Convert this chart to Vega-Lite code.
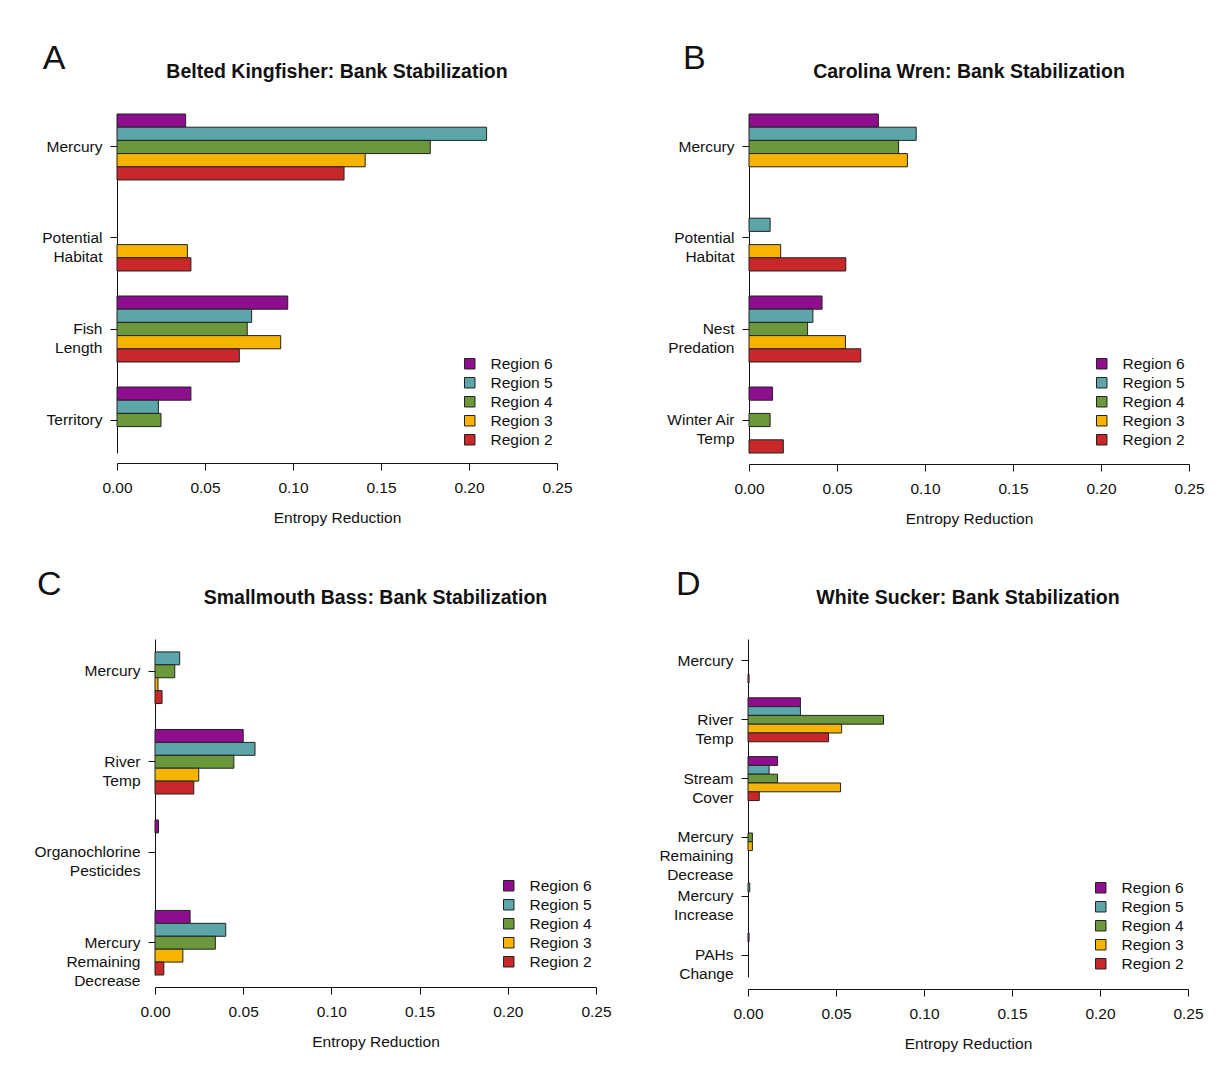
{
  "$schema": "https://vega.github.io/schema/vega-lite/v6.json",
  "background": "white",
  "padding": {"left": 0, "top": 42, "right": 2, "bottom": 10},
  "config": {
    "font": "Liberation Sans",
    "view": {"stroke": null},
    "title": {"fontSize": 19.5, "fontWeight": "bold", "anchor": "middle", "offset": 31, "color": "#111"},
    "axis": {"domainColor": "#111", "tickColor": "#111", "labelColor": "#111", "titleColor": "#111", "grid": false, "labelFontSize": 15.5, "titleFontSize": 15.5, "titleFontWeight": "normal", "tickSize": 7},
    "axisY": {"title": null, "labelPadding": 8, "labelExpr": "split(datum.label, '|')", "labelLineHeight": 19, "labelAlign": "right", "labelBaseline": "middle"},
    "axisX": {"labelFlush": false, "labelPadding": 10, "titlePadding": 15},
    "legend": {"orient": "bottom-right", "offset": 4, "title": null, "symbolType": "square", "symbolSize": 110, "symbolStrokeColor": "#222", "symbolStrokeWidth": 1, "labelFontSize": 15.5, "labelColor": "#111", "labelOffset": 13, "rowPadding": 2}
  },
  "datasets": {
    "empty": [],
    "kingfisher": [
      {"var": "Mercury", "region": "Region 6", "value": 0.039},
      {"var": "Mercury", "region": "Region 5", "value": 0.21},
      {"var": "Mercury", "region": "Region 4", "value": 0.178},
      {"var": "Mercury", "region": "Region 3", "value": 0.141},
      {"var": "Mercury", "region": "Region 2", "value": 0.129},
      {"var": "Potential|Habitat", "region": "Region 3", "value": 0.04},
      {"var": "Potential|Habitat", "region": "Region 2", "value": 0.042},
      {"var": "Fish|Length", "region": "Region 6", "value": 0.097},
      {"var": "Fish|Length", "region": "Region 5", "value": 0.0765},
      {"var": "Fish|Length", "region": "Region 4", "value": 0.074},
      {"var": "Fish|Length", "region": "Region 3", "value": 0.093},
      {"var": "Fish|Length", "region": "Region 2", "value": 0.0695},
      {"var": "Territory", "region": "Region 6", "value": 0.042},
      {"var": "Territory", "region": "Region 5", "value": 0.0235},
      {"var": "Territory", "region": "Region 4", "value": 0.025}
    ],
    "wren": [
      {"var": "Mercury", "region": "Region 6", "value": 0.0735},
      {"var": "Mercury", "region": "Region 5", "value": 0.095},
      {"var": "Mercury", "region": "Region 4", "value": 0.085},
      {"var": "Mercury", "region": "Region 3", "value": 0.09},
      {"var": "Potential|Habitat", "region": "Region 5", "value": 0.012},
      {"var": "Potential|Habitat", "region": "Region 3", "value": 0.018},
      {"var": "Potential|Habitat", "region": "Region 2", "value": 0.055},
      {"var": "Nest|Predation", "region": "Region 6", "value": 0.0415},
      {"var": "Nest|Predation", "region": "Region 5", "value": 0.0363},
      {"var": "Nest|Predation", "region": "Region 4", "value": 0.0333},
      {"var": "Nest|Predation", "region": "Region 3", "value": 0.0548},
      {"var": "Nest|Predation", "region": "Region 2", "value": 0.0635},
      {"var": "Winter Air|Temp", "region": "Region 6", "value": 0.0134},
      {"var": "Winter Air|Temp", "region": "Region 4", "value": 0.012},
      {"var": "Winter Air|Temp", "region": "Region 2", "value": 0.0195}
    ],
    "bass": [
      {"var": "Mercury", "region": "Region 5", "value": 0.014},
      {"var": "Mercury", "region": "Region 4", "value": 0.0112},
      {"var": "Mercury", "region": "Region 3", "value": 0.0017},
      {"var": "Mercury", "region": "Region 2", "value": 0.004},
      {"var": "River|Temp", "region": "Region 6", "value": 0.05},
      {"var": "River|Temp", "region": "Region 5", "value": 0.0567},
      {"var": "River|Temp", "region": "Region 4", "value": 0.0447},
      {"var": "River|Temp", "region": "Region 3", "value": 0.0248},
      {"var": "River|Temp", "region": "Region 2", "value": 0.022},
      {"var": "Organochlorine|Pesticides", "region": "Region 6", "value": 0.002},
      {"var": "Mercury|Remaining|Decrease", "region": "Region 6", "value": 0.0199},
      {"var": "Mercury|Remaining|Decrease", "region": "Region 5", "value": 0.0401},
      {"var": "Mercury|Remaining|Decrease", "region": "Region 4", "value": 0.0342},
      {"var": "Mercury|Remaining|Decrease", "region": "Region 3", "value": 0.0158},
      {"var": "Mercury|Remaining|Decrease", "region": "Region 2", "value": 0.005}
    ],
    "sucker": [
      {"var": "Mercury", "region": "Region 2", "value": 0.0006},
      {"var": "River|Temp", "region": "Region 6", "value": 0.0298},
      {"var": "River|Temp", "region": "Region 5", "value": 0.0298},
      {"var": "River|Temp", "region": "Region 4", "value": 0.077},
      {"var": "River|Temp", "region": "Region 3", "value": 0.0532},
      {"var": "River|Temp", "region": "Region 2", "value": 0.0458},
      {"var": "Stream|Cover", "region": "Region 6", "value": 0.0168},
      {"var": "Stream|Cover", "region": "Region 5", "value": 0.012},
      {"var": "Stream|Cover", "region": "Region 4", "value": 0.0168},
      {"var": "Stream|Cover", "region": "Region 3", "value": 0.0526},
      {"var": "Stream|Cover", "region": "Region 2", "value": 0.0064},
      {"var": "Mercury|Remaining|Decrease", "region": "Region 4", "value": 0.0025},
      {"var": "Mercury|Remaining|Decrease", "region": "Region 3", "value": 0.0025},
      {"var": "Mercury|Increase", "region": "Region 5", "value": 0.001},
      {"var": "PAHs|Change", "region": "Region 6", "value": 0.0006}
    ]
  },
  "resolve": {"scale": {"x": "independent", "y": "independent", "color": "independent", "yOffset": "independent"}, "legend": {"color": "independent"}},
  "spacing": 40,
  "vconcat": [
    {
      "spacing": 0,
      "resolve": {"scale": {"x": "independent", "y": "independent", "color": "independent", "yOffset": "independent"}, "legend": {"color": "independent"}},
      "hconcat": [
        {"width": 41, "height": 1, "data": {"name": "empty"}, "mark": "point"},
        {
          "title": {"text": "A", "fontSize": 34, "fontWeight": "normal", "anchor": "start", "offset": -14, "dx": 1},
          "resolve": {"scale": {"x": "independent", "y": "independent", "color": "independent", "yOffset": "independent"}, "legend": {"color": "independent"}},
          "vconcat": [
            {
              "width": 440, "height": 339,
              "title": "Belted Kingfisher: Bank Stabilization",
              "data": {"name": "kingfisher"},
              "mark": {"type": "bar", "stroke": "#222", "strokeWidth": 1},
              "encoding": {
                "y": {"field": "var", "type": "nominal", "scale": {"domain": ["Mercury", "Potential|Habitat", "Fish|Length", "Territory"], "paddingInner": 0.275, "paddingOuter": 0}},
                "yOffset": {"field": "region", "type": "nominal", "scale": {"domain": ["Region 6", "Region 5", "Region 4", "Region 3", "Region 2"], "paddingInner": 0, "paddingOuter": 0}},
                "x": {"field": "value", "type": "quantitative", "scale": {"domain": [0, 0.25], "nice": false}, "axis": {"title": "Entropy Reduction", "offset": 10, "values": [0, 0.05, 0.1, 0.15, 0.2, 0.25], "format": ".2f"}},
                "color": {"field": "region", "type": "nominal", "scale": {"domain": ["Region 6", "Region 5", "Region 4", "Region 3", "Region 2"], "range": ["#8e0e8e", "#5ca5a8", "#6a983a", "#f6b400", "#c8282a"]}}
              }
            }
          ]
        },
        {"width": 92, "height": 1, "data": {"name": "empty"}, "mark": "point"},
        {
          "title": {"text": "B", "fontSize": 34, "fontWeight": "normal", "anchor": "start", "offset": -14, "dx": 17},
          "resolve": {"scale": {"x": "independent", "y": "independent", "color": "independent", "yOffset": "independent"}, "legend": {"color": "independent"}},
          "vconcat": [
            {
              "width": 440, "height": 339,
              "title": "Carolina Wren: Bank Stabilization",
              "data": {"name": "wren"},
              "mark": {"type": "bar", "stroke": "#222", "strokeWidth": 1},
              "encoding": {
                "y": {"field": "var", "type": "nominal", "scale": {"domain": ["Mercury", "Potential|Habitat", "Nest|Predation", "Winter Air|Temp"], "paddingInner": 0.275, "paddingOuter": 0}},
                "yOffset": {"field": "region", "type": "nominal", "scale": {"domain": ["Region 6", "Region 5", "Region 4", "Region 3", "Region 2"], "paddingInner": 0, "paddingOuter": 0}},
                "x": {"field": "value", "type": "quantitative", "scale": {"domain": [0, 0.25], "nice": false}, "axis": {"title": "Entropy Reduction", "offset": 11, "values": [0, 0.05, 0.1, 0.15, 0.2, 0.25], "format": ".2f"}},
                "color": {"field": "region", "type": "nominal", "scale": {"domain": ["Region 6", "Region 5", "Region 4", "Region 3", "Region 2"], "range": ["#8e0e8e", "#5ca5a8", "#6a983a", "#f6b400", "#c8282a"]}}
              }
            }
          ]
        }
      ]
    },
    {
      "spacing": 0,
      "resolve": {"scale": {"x": "independent", "y": "independent", "color": "independent", "yOffset": "independent"}, "legend": {"color": "independent"}},
      "hconcat": [
        {"width": 34, "height": 1, "data": {"name": "empty"}, "mark": "point"},
        {
          "title": {"text": "C", "fontSize": 34, "fontWeight": "normal", "anchor": "start", "offset": -14, "dx": 3},
          "resolve": {"scale": {"x": "independent", "y": "independent", "color": "independent", "yOffset": "independent"}, "legend": {"color": "independent"}},
          "vconcat": [
            {
              "width": 441, "height": 336,
              "title": "Smallmouth Bass: Bank Stabilization",
              "data": {"name": "bass"},
              "mark": {"type": "bar", "stroke": "#222", "strokeWidth": 1},
              "encoding": {
                "y": {"field": "var", "type": "nominal", "scale": {"domain": ["Mercury", "River|Temp", "Organochlorine|Pesticides", "Mercury|Remaining|Decrease"], "paddingInner": 0.2865, "paddingOuter": 0}},
                "yOffset": {"field": "region", "type": "nominal", "scale": {"domain": ["Region 6", "Region 5", "Region 4", "Region 3", "Region 2"], "paddingInner": 0, "paddingOuter": 0}},
                "x": {"field": "value", "type": "quantitative", "scale": {"domain": [0, 0.25], "nice": false}, "axis": {"title": "Entropy Reduction", "offset": 12, "values": [0, 0.05, 0.1, 0.15, 0.2, 0.25], "format": ".2f"}},
                "color": {"field": "region", "type": "nominal", "scale": {"domain": ["Region 6", "Region 5", "Region 4", "Region 3", "Region 2"], "range": ["#8e0e8e", "#5ca5a8", "#6a983a", "#f6b400", "#c8282a"]}}
              }
            }
          ]
        },
        {"width": 46, "height": 1, "data": {"name": "empty"}, "mark": "point"},
        {
          "title": {"text": "D", "fontSize": 34, "fontWeight": "normal", "anchor": "start", "offset": -14, "dx": 17},
          "resolve": {"scale": {"x": "independent", "y": "independent", "color": "independent", "yOffset": "independent"}, "legend": {"color": "independent"}},
          "vconcat": [
            {
              "width": 440, "height": 338,
              "title": "White Sucker: Bank Stabilization",
              "data": {"name": "sucker"},
              "mark": {"type": "bar", "stroke": "#222", "strokeWidth": 1},
              "encoding": {
                "y": {"field": "var", "type": "nominal", "scale": {"domain": ["Mercury", "River|Temp", "Stream|Cover", "Mercury|Remaining|Decrease", "Mercury|Increase", "PAHs|Change"], "paddingInner": 0.252, "paddingOuter": 0}},
                "yOffset": {"field": "region", "type": "nominal", "scale": {"domain": ["Region 6", "Region 5", "Region 4", "Region 3", "Region 2"], "paddingInner": 0, "paddingOuter": 0}},
                "x": {"field": "value", "type": "quantitative", "scale": {"domain": [0, 0.25], "nice": false}, "axis": {"title": "Entropy Reduction", "offset": 12, "values": [0, 0.05, 0.1, 0.15, 0.2, 0.25], "format": ".2f"}},
                "color": {"field": "region", "type": "nominal", "scale": {"domain": ["Region 6", "Region 5", "Region 4", "Region 3", "Region 2"], "range": ["#8e0e8e", "#5ca5a8", "#6a983a", "#f6b400", "#c8282a"]}}
              }
            }
          ]
        }
      ]
    }
  ]
}
